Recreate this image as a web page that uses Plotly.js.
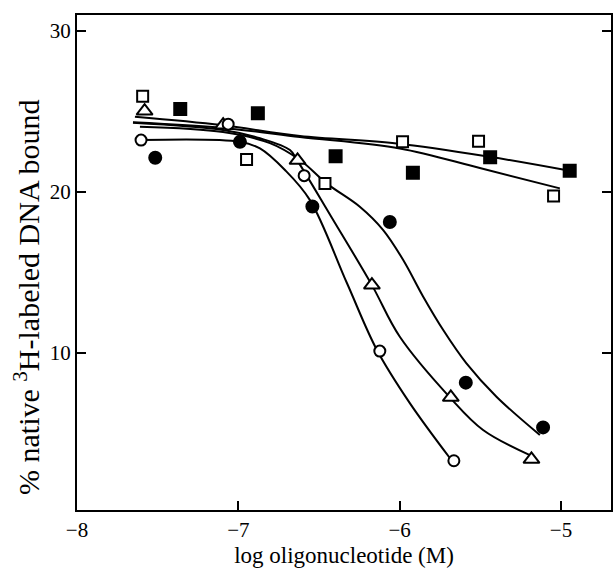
<!DOCTYPE html>
<html>
<head>
<meta charset="utf-8">
<script src="https://cdn.plot.ly/plotly-3.0.1.min.js"></script>
<style>html,body{margin:0;padding:0;background:#fff;}#chart{width:613px;height:568px;}</style>
</head>
<body>
<div id="chart"></div>
<script>
// Data points (log M, % bound)
const openSqX = [-7.593, -6.949, -6.463, -5.982, -5.511, -5.046];
const openSqY = [25.96, 22.03, 20.54, 23.12, 23.15, 19.75];
const fillSqX = [-7.360, -6.879, -6.397, -5.918, -5.439, -4.946];
const fillSqY = [25.16, 24.89, 22.22, 21.20, 22.16, 21.32];
const triX = [-7.581, -7.094, -6.633, -6.172, -5.683, -5.183];
const triY = [25.03, 24.16, 21.97, 14.22, 7.25, 3.40];
const openCircX = [-7.603, -7.063, -6.592, -6.123, -5.664];
const openCircY = [23.23, 24.22, 21.02, 10.12, 3.31];
const fillCircX = [-7.515, -6.990, -6.541, -6.061, -5.590, -5.111];
const fillCircY = [22.13, 23.12, 19.10, 18.14, 8.16, 5.38];

// Fitted curves
const curveFillSqX = [-7.641, -7.103, -6.618, -6.019, -5.441, -4.946];
const curveFillSqY = [24.68, 24.16, 23.48, 23.02, 22.19, 21.32];
const curveOpenSqX = [-7.653, -7.052, -6.618, -5.999, -5.503, -5.007];
const curveOpenSqY = [24.33, 23.94, 23.42, 22.71, 21.49, 20.23];
const curveTriX = [-7.653, -7.095, -6.866, -6.680, -6.633, -6.424, -6.172, -5.999, -5.689, -5.483, -5.193];
const curveTriY = [24.30, 23.85, 23.34, 22.61, 21.94, 18.47, 14.22, 11.01, 7.25, 5.22, 3.66];
const curveFillCircX = [-7.610, -7.095, -6.804, -6.618, -6.453, -6.247, -6.102, -5.978, -5.854, -5.730, -5.586, -5.400, -5.131];
const curveFillCircY = [24.06, 23.73, 23.04, 21.99, 20.54, 19.09, 17.64, 15.78, 13.50, 11.43, 9.36, 7.29, 4.91];
const curveOpenCircX = [-7.603, -6.990, -6.866, -6.711, -6.556, -6.327, -6.141, -5.937, -5.689];
const curveOpenCircY = [23.23, 23.12, 22.71, 21.37, 19.50, 14.35, 10.19, 6.89, 3.48];

const xTicks = [-8, -7, -6, -5];
const xTickText = ['\u22128', '\u22127', '\u22126', '\u22125'];
const yTicks = [10, 20, 30];
const xTitle = 'log oligonucleotide (M)';
const yTitle = '% native <sup>3</sup>H-labeled DNA bound';

const serif = '"Liberation Serif", "DejaVu Serif", serif';
const lineStyle = {color: '#000', width: 2, shape: 'spline', smoothing: 1};
function curve(x, y) {
  return {x: x, y: y, mode: 'lines', line: lineStyle, hoverinfo: 'skip', showlegend: false};
}
function pts(x, y, symbol, size) {
  return {x: x, y: y, mode: 'markers', showlegend: false,
    marker: {symbol: symbol, size: size, color: '#000',
      line: {color: '#000', width: 2}}};
}
function openPts(x, y, symbol, size) {
  return {x: x, y: y, mode: 'markers', showlegend: false,
    marker: {symbol: symbol, size: size, color: '#fff',
      line: {color: '#000', width: 2}}};
}

const data = [
  curve(curveFillSqX, curveFillSqY),
  curve(curveOpenSqX, curveOpenSqY),
  curve(curveTriX, curveTriY),
  curve(curveFillCircX, curveFillCircY),
  curve(curveOpenCircX, curveOpenCircY),
  openPts(openSqX, openSqY, 'square', 11),
  pts(fillSqX, fillSqY, 'square', 12),
  openPts(triX, triY, 'triangle-up', 14),
  openPts(openCircX, openCircY, 'circle', 11),
  pts(fillCircX, fillCircY, 'circle', 12)
];

const layout = {
  width: 613, height: 568,
  margin: {l: 77, r: 2, t: 15, b: 58},
  paper_bgcolor: '#fff', plot_bgcolor: '#fff',
  font: {family: serif, color: '#000'},
  showlegend: false,
  xaxis: {
    range: [-8, -4.69],
    tickvals: xTicks, ticktext: xTickText,
    ticks: 'inside', ticklen: 9, tickwidth: 2, tickcolor: '#000',
    showline: true, linecolor: '#000', linewidth: 2, mirror: true,
    showgrid: false, zeroline: false,
    tickfont: {size: 21, family: serif, color: '#000'},
    title: {text: xTitle, font: {size: 23, family: serif, color: '#000'}, standoff: 10}
  },
  yaxis: {
    range: [0.25, 31.0],
    tickvals: yTicks,
    ticks: 'inside', ticklen: 9, tickwidth: 2, tickcolor: '#000',
    showline: true, linecolor: '#000', linewidth: 2, mirror: 'ticks',
    showgrid: false, zeroline: false,
    tickfont: {size: 21, family: serif, color: '#000'}
  },
  annotations: [{
    text: yTitle, textangle: -90, showarrow: false,
    xref: 'paper', yref: 'paper', x: -0.094, y: 0.43,
    xanchor: 'center', yanchor: 'middle',
    font: {size: 30, family: serif, color: '#000'}
  }]
};

Plotly.newPlot('chart', data, layout, {staticPlot: true, displayModeBar: false});
</script>
</body>
</html>
